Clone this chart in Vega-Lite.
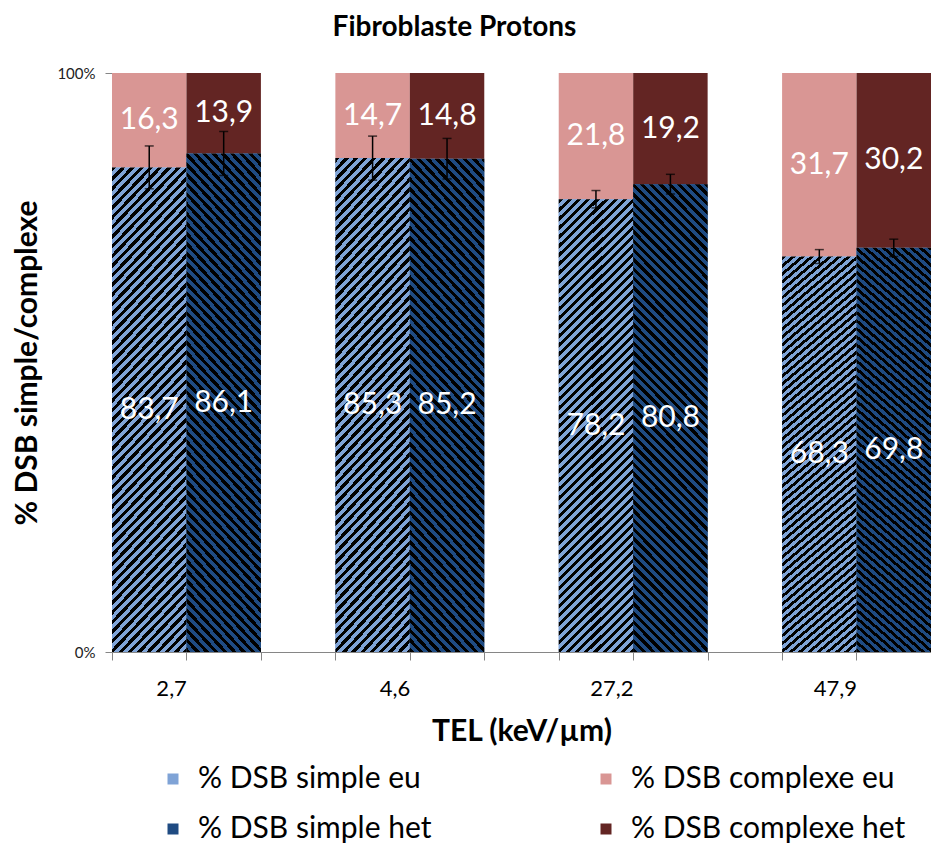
{
"$schema": "https://vega.github.io/schema/vega-lite/v6.json",
"width": 931,
"height": 844,
"autosize": {"type": "fit", "contains": "padding"},
"padding": {"left": 12, "top": 14, "right": 0, "bottom": 0},
"title": {"text": "Fibroblaste Protons", "font": "Lato", "fontSize": 28, "fontWeight": "bold", "color": "#000", "offset": 24, "dx": -67},
"data": {"values": [
{"cat": "2,7 eu", "tel": "2,7", "state": "eu", "type": "simple", "series": "% DSB simple eu", "value": 83.7, "err": 3.7},
{"cat": "2,7 eu", "tel": "2,7", "state": "eu", "type": "complexe", "series": "% DSB complexe eu", "value": 16.3},
{"cat": "2,7 het", "tel": "2,7", "state": "het", "type": "simple", "series": "% DSB simple het", "value": 86.1, "err": 3.8},
{"cat": "2,7 het", "tel": "2,7", "state": "het", "type": "complexe", "series": "% DSB complexe het", "value": 13.9},
{"cat": "4,6 eu", "tel": "4,6", "state": "eu", "type": "simple", "series": "% DSB simple eu", "value": 85.3, "err": 3.8},
{"cat": "4,6 eu", "tel": "4,6", "state": "eu", "type": "complexe", "series": "% DSB complexe eu", "value": 14.7},
{"cat": "4,6 het", "tel": "4,6", "state": "het", "type": "simple", "series": "% DSB simple het", "value": 85.2, "err": 3.5},
{"cat": "4,6 het", "tel": "4,6", "state": "het", "type": "complexe", "series": "% DSB complexe het", "value": 14.8},
{"cat": "27,2 eu", "tel": "27,2", "state": "eu", "type": "simple", "series": "% DSB simple eu", "value": 78.2, "err": 1.5},
{"cat": "27,2 eu", "tel": "27,2", "state": "eu", "type": "complexe", "series": "% DSB complexe eu", "value": 21.8},
{"cat": "27,2 het", "tel": "27,2", "state": "het", "type": "simple", "series": "% DSB simple het", "value": 80.8, "err": 1.7},
{"cat": "27,2 het", "tel": "27,2", "state": "het", "type": "complexe", "series": "% DSB complexe het", "value": 19.2},
{"cat": "47,9 eu", "tel": "47,9", "state": "eu", "type": "simple", "series": "% DSB simple eu", "value": 68.3, "err": 1.2},
{"cat": "47,9 eu", "tel": "47,9", "state": "eu", "type": "complexe", "series": "% DSB complexe eu", "value": 31.7},
{"cat": "47,9 het", "tel": "47,9", "state": "het", "type": "simple", "series": "% DSB simple het", "value": 69.8, "err": 1.5},
{"cat": "47,9 het", "tel": "47,9", "state": "het", "type": "complexe", "series": "% DSB complexe het", "value": 30.2}
]},
"encoding": {
"x": {"field": "cat", "type": "nominal", "sort": null,
 "scale": {"domain": ["2,7 eu", "2,7 het", "gap1", "4,6 eu", "4,6 het", "gap2", "27,2 eu", "27,2 het", "gap3", "47,9 eu", "47,9 het"], "paddingInner": 0, "paddingOuter": 0},
 "axis": {"title": "TEL (keV/µm)", "titleFont": "Lato", "titleFontSize": 30, "titleFontWeight": "bold", "titleColor": "#000", "titlePadding": 17,
  "labelAngle": 0, "labelExpr": "indexof(datum.value, ' het') > 0 ? split(datum.value, ' ')[0] : ''", "labelAlign": "right", "labelFont": "Lato", "labelFontSize": 22, "labelColor": "#000", "labelPadding": 18,
  "tickOffset": -37.3, "tickSize": 8, "tickColor": "#868686", "domainColor": "#868686", "grid": false}},
"y": {"field": "value", "type": "quantitative",
 "scale": {"domain": [0, 100], "nice": false},
 "axis": {"title": "% DSB simple/complexe", "values": [0, 100], "labelExpr": "datum.value + '%'", "labelFont": "Lato", "labelFontSize": 15, "labelColor": "#222", "tickSize": 7, "tickColor": "#868686", "domainColor": "#868686", "labelPadding": 10, "grid": false,
  "titleFont": "Lato", "titleFontSize": 30, "titleFontWeight": "bold", "titleColor": "#000", "titlePadding": 14}}
},
"layer": [
{"mark": {"type": "bar"},
 "encoding": {
  "color": {"field": "series", "type": "nominal",
   "scale": {"domain": ["% DSB simple eu", "% DSB complexe eu", "% DSB simple het", "% DSB complexe het"], "range": ["#7fa3d6", "#d99694", "#1f4b82", "#632523"]},
   "legend": {"orient": "bottom", "columns": 2, "title": " ", "titleOrient": "left", "titleFontSize": 1, "titlePadding": 46, "offset": 18, "labelLimit": 400,
    "labelFont": "Lato", "labelFontSize": 30, "labelColor": "#000", "symbolType": "square", "symbolSize": 121, "labelOffset": 10, "rowPadding": 20, "columnPadding": 159}},
  "order": {"field": "type", "sort": "descending"}
 }},
{"transform": [{"filter": "datum.state === 'eu' && datum.type === 'simple'"}],
 "mark": {"type": "bar", "fill": {"gradient": "linear", "x1": 0, "y1": 0, "x2": 0.183, "y2": 1.14, "stops": [
{"offset":0,"color":"#000"},{"offset":0.008,"color":"#000"},{"offset":0.008,"color":"#7fa3d6"},{"offset":0.017,"color":"#7fa3d6"},
{"offset":0.017,"color":"#000"},{"offset":0.025,"color":"#000"},{"offset":0.025,"color":"#7fa3d6"},{"offset":0.034,"color":"#7fa3d6"},
{"offset":0.034,"color":"#000"},{"offset":0.042,"color":"#000"},{"offset":0.042,"color":"#7fa3d6"},{"offset":0.051,"color":"#7fa3d6"},
{"offset":0.051,"color":"#000"},{"offset":0.059,"color":"#000"},{"offset":0.059,"color":"#7fa3d6"},{"offset":0.068,"color":"#7fa3d6"},
{"offset":0.068,"color":"#000"},{"offset":0.076,"color":"#000"},{"offset":0.076,"color":"#7fa3d6"},{"offset":0.085,"color":"#7fa3d6"},
{"offset":0.085,"color":"#000"},{"offset":0.093,"color":"#000"},{"offset":0.093,"color":"#7fa3d6"},{"offset":0.102,"color":"#7fa3d6"},
{"offset":0.102,"color":"#000"},{"offset":0.110,"color":"#000"},{"offset":0.110,"color":"#7fa3d6"},{"offset":0.119,"color":"#7fa3d6"},
{"offset":0.119,"color":"#000"},{"offset":0.127,"color":"#000"},{"offset":0.127,"color":"#7fa3d6"},{"offset":0.136,"color":"#7fa3d6"},
{"offset":0.136,"color":"#000"},{"offset":0.144,"color":"#000"},{"offset":0.144,"color":"#7fa3d6"},{"offset":0.153,"color":"#7fa3d6"},
{"offset":0.153,"color":"#000"},{"offset":0.161,"color":"#000"},{"offset":0.161,"color":"#7fa3d6"},{"offset":0.170,"color":"#7fa3d6"},
{"offset":0.170,"color":"#000"},{"offset":0.178,"color":"#000"},{"offset":0.178,"color":"#7fa3d6"},{"offset":0.187,"color":"#7fa3d6"},
{"offset":0.187,"color":"#000"},{"offset":0.195,"color":"#000"},{"offset":0.195,"color":"#7fa3d6"},{"offset":0.204,"color":"#7fa3d6"},
{"offset":0.204,"color":"#000"},{"offset":0.212,"color":"#000"},{"offset":0.212,"color":"#7fa3d6"},{"offset":0.221,"color":"#7fa3d6"},
{"offset":0.221,"color":"#000"},{"offset":0.229,"color":"#000"},{"offset":0.229,"color":"#7fa3d6"},{"offset":0.238,"color":"#7fa3d6"},
{"offset":0.238,"color":"#000"},{"offset":0.246,"color":"#000"},{"offset":0.246,"color":"#7fa3d6"},{"offset":0.255,"color":"#7fa3d6"},
{"offset":0.255,"color":"#000"},{"offset":0.263,"color":"#000"},{"offset":0.263,"color":"#7fa3d6"},{"offset":0.272,"color":"#7fa3d6"},
{"offset":0.272,"color":"#000"},{"offset":0.280,"color":"#000"},{"offset":0.280,"color":"#7fa3d6"},{"offset":0.289,"color":"#7fa3d6"},
{"offset":0.289,"color":"#000"},{"offset":0.297,"color":"#000"},{"offset":0.297,"color":"#7fa3d6"},{"offset":0.306,"color":"#7fa3d6"},
{"offset":0.306,"color":"#000"},{"offset":0.314,"color":"#000"},{"offset":0.314,"color":"#7fa3d6"},{"offset":0.323,"color":"#7fa3d6"},
{"offset":0.323,"color":"#000"},{"offset":0.331,"color":"#000"},{"offset":0.331,"color":"#7fa3d6"},{"offset":0.340,"color":"#7fa3d6"},
{"offset":0.340,"color":"#000"},{"offset":0.348,"color":"#000"},{"offset":0.348,"color":"#7fa3d6"},{"offset":0.357,"color":"#7fa3d6"},
{"offset":0.357,"color":"#000"},{"offset":0.365,"color":"#000"},{"offset":0.365,"color":"#7fa3d6"},{"offset":0.374,"color":"#7fa3d6"},
{"offset":0.374,"color":"#000"},{"offset":0.382,"color":"#000"},{"offset":0.382,"color":"#7fa3d6"},{"offset":0.391,"color":"#7fa3d6"},
{"offset":0.391,"color":"#000"},{"offset":0.399,"color":"#000"},{"offset":0.399,"color":"#7fa3d6"},{"offset":0.408,"color":"#7fa3d6"},
{"offset":0.408,"color":"#000"},{"offset":0.416,"color":"#000"},{"offset":0.416,"color":"#7fa3d6"},{"offset":0.425,"color":"#7fa3d6"},
{"offset":0.425,"color":"#000"},{"offset":0.433,"color":"#000"},{"offset":0.433,"color":"#7fa3d6"},{"offset":0.442,"color":"#7fa3d6"},
{"offset":0.442,"color":"#000"},{"offset":0.450,"color":"#000"},{"offset":0.450,"color":"#7fa3d6"},{"offset":0.459,"color":"#7fa3d6"},
{"offset":0.459,"color":"#000"},{"offset":0.467,"color":"#000"},{"offset":0.467,"color":"#7fa3d6"},{"offset":0.476,"color":"#7fa3d6"},
{"offset":0.476,"color":"#000"},{"offset":0.484,"color":"#000"},{"offset":0.484,"color":"#7fa3d6"},{"offset":0.493,"color":"#7fa3d6"},
{"offset":0.493,"color":"#000"},{"offset":0.501,"color":"#000"},{"offset":0.501,"color":"#7fa3d6"},{"offset":0.510,"color":"#7fa3d6"},
{"offset":0.510,"color":"#000"},{"offset":0.518,"color":"#000"},{"offset":0.518,"color":"#7fa3d6"},{"offset":0.527,"color":"#7fa3d6"},
{"offset":0.527,"color":"#000"},{"offset":0.535,"color":"#000"},{"offset":0.535,"color":"#7fa3d6"},{"offset":0.544,"color":"#7fa3d6"},
{"offset":0.544,"color":"#000"},{"offset":0.552,"color":"#000"},{"offset":0.552,"color":"#7fa3d6"},{"offset":0.561,"color":"#7fa3d6"},
{"offset":0.561,"color":"#000"},{"offset":0.569,"color":"#000"},{"offset":0.569,"color":"#7fa3d6"},{"offset":0.578,"color":"#7fa3d6"},
{"offset":0.578,"color":"#000"},{"offset":0.586,"color":"#000"},{"offset":0.586,"color":"#7fa3d6"},{"offset":0.595,"color":"#7fa3d6"},
{"offset":0.595,"color":"#000"},{"offset":0.603,"color":"#000"},{"offset":0.603,"color":"#7fa3d6"},{"offset":0.612,"color":"#7fa3d6"},
{"offset":0.612,"color":"#000"},{"offset":0.620,"color":"#000"},{"offset":0.620,"color":"#7fa3d6"},{"offset":0.629,"color":"#7fa3d6"},
{"offset":0.629,"color":"#000"},{"offset":0.637,"color":"#000"},{"offset":0.637,"color":"#7fa3d6"},{"offset":0.646,"color":"#7fa3d6"},
{"offset":0.646,"color":"#000"},{"offset":0.654,"color":"#000"},{"offset":0.654,"color":"#7fa3d6"},{"offset":0.663,"color":"#7fa3d6"},
{"offset":0.663,"color":"#000"},{"offset":0.671,"color":"#000"},{"offset":0.671,"color":"#7fa3d6"},{"offset":0.680,"color":"#7fa3d6"},
{"offset":0.680,"color":"#000"},{"offset":0.688,"color":"#000"},{"offset":0.688,"color":"#7fa3d6"},{"offset":0.697,"color":"#7fa3d6"},
{"offset":0.697,"color":"#000"},{"offset":0.705,"color":"#000"},{"offset":0.705,"color":"#7fa3d6"},{"offset":0.714,"color":"#7fa3d6"},
{"offset":0.714,"color":"#000"},{"offset":0.722,"color":"#000"},{"offset":0.722,"color":"#7fa3d6"},{"offset":0.731,"color":"#7fa3d6"},
{"offset":0.731,"color":"#000"},{"offset":0.739,"color":"#000"},{"offset":0.739,"color":"#7fa3d6"},{"offset":0.748,"color":"#7fa3d6"},
{"offset":0.748,"color":"#000"},{"offset":0.756,"color":"#000"},{"offset":0.756,"color":"#7fa3d6"},{"offset":0.765,"color":"#7fa3d6"},
{"offset":0.765,"color":"#000"},{"offset":0.773,"color":"#000"},{"offset":0.773,"color":"#7fa3d6"},{"offset":0.782,"color":"#7fa3d6"},
{"offset":0.782,"color":"#000"},{"offset":0.790,"color":"#000"},{"offset":0.790,"color":"#7fa3d6"},{"offset":0.799,"color":"#7fa3d6"},
{"offset":0.799,"color":"#000"},{"offset":0.807,"color":"#000"},{"offset":0.807,"color":"#7fa3d6"},{"offset":0.816,"color":"#7fa3d6"},
{"offset":0.816,"color":"#000"},{"offset":0.824,"color":"#000"},{"offset":0.824,"color":"#7fa3d6"},{"offset":0.833,"color":"#7fa3d6"},
{"offset":0.833,"color":"#000"},{"offset":0.841,"color":"#000"},{"offset":0.841,"color":"#7fa3d6"},{"offset":0.850,"color":"#7fa3d6"},
{"offset":0.850,"color":"#000"},{"offset":0.858,"color":"#000"},{"offset":0.858,"color":"#7fa3d6"},{"offset":0.867,"color":"#7fa3d6"},
{"offset":0.867,"color":"#000"},{"offset":0.875,"color":"#000"},{"offset":0.875,"color":"#7fa3d6"},{"offset":0.884,"color":"#7fa3d6"},
{"offset":0.884,"color":"#000"},{"offset":0.892,"color":"#000"},{"offset":0.892,"color":"#7fa3d6"},{"offset":0.901,"color":"#7fa3d6"},
{"offset":0.901,"color":"#000"},{"offset":0.909,"color":"#000"},{"offset":0.909,"color":"#7fa3d6"},{"offset":0.918,"color":"#7fa3d6"},
{"offset":0.918,"color":"#000"},{"offset":0.926,"color":"#000"},{"offset":0.926,"color":"#7fa3d6"},{"offset":0.935,"color":"#7fa3d6"},
{"offset":0.935,"color":"#000"},{"offset":0.943,"color":"#000"},{"offset":0.943,"color":"#7fa3d6"},{"offset":0.952,"color":"#7fa3d6"},
{"offset":0.952,"color":"#000"},{"offset":0.960,"color":"#000"},{"offset":0.960,"color":"#7fa3d6"},{"offset":0.969,"color":"#7fa3d6"},
{"offset":0.969,"color":"#000"},{"offset":0.977,"color":"#000"},{"offset":0.977,"color":"#7fa3d6"},{"offset":0.986,"color":"#7fa3d6"},
{"offset":0.986,"color":"#000"},{"offset":0.994,"color":"#000"},{"offset":0.994,"color":"#7fa3d6"},{"offset":1,"color":"#7fa3d6"}
 ]}},
 "encoding": {}},
{"transform": [{"filter": "datum.state === 'het' && datum.type === 'simple'"}],
 "mark": {"type": "bar", "fill": {"gradient": "linear", "x1": 0, "y1": 1, "x2": 0.183, "y2": -0.14, "stops": [
{"offset":0,"color":"#000"},{"offset":0.008,"color":"#000"},{"offset":0.008,"color":"#1f4b82"},{"offset":0.017,"color":"#1f4b82"},
{"offset":0.017,"color":"#000"},{"offset":0.025,"color":"#000"},{"offset":0.025,"color":"#1f4b82"},{"offset":0.034,"color":"#1f4b82"},
{"offset":0.034,"color":"#000"},{"offset":0.042,"color":"#000"},{"offset":0.042,"color":"#1f4b82"},{"offset":0.051,"color":"#1f4b82"},
{"offset":0.051,"color":"#000"},{"offset":0.059,"color":"#000"},{"offset":0.059,"color":"#1f4b82"},{"offset":0.068,"color":"#1f4b82"},
{"offset":0.068,"color":"#000"},{"offset":0.076,"color":"#000"},{"offset":0.076,"color":"#1f4b82"},{"offset":0.085,"color":"#1f4b82"},
{"offset":0.085,"color":"#000"},{"offset":0.093,"color":"#000"},{"offset":0.093,"color":"#1f4b82"},{"offset":0.102,"color":"#1f4b82"},
{"offset":0.102,"color":"#000"},{"offset":0.110,"color":"#000"},{"offset":0.110,"color":"#1f4b82"},{"offset":0.119,"color":"#1f4b82"},
{"offset":0.119,"color":"#000"},{"offset":0.127,"color":"#000"},{"offset":0.127,"color":"#1f4b82"},{"offset":0.136,"color":"#1f4b82"},
{"offset":0.136,"color":"#000"},{"offset":0.144,"color":"#000"},{"offset":0.144,"color":"#1f4b82"},{"offset":0.153,"color":"#1f4b82"},
{"offset":0.153,"color":"#000"},{"offset":0.161,"color":"#000"},{"offset":0.161,"color":"#1f4b82"},{"offset":0.170,"color":"#1f4b82"},
{"offset":0.170,"color":"#000"},{"offset":0.178,"color":"#000"},{"offset":0.178,"color":"#1f4b82"},{"offset":0.187,"color":"#1f4b82"},
{"offset":0.187,"color":"#000"},{"offset":0.195,"color":"#000"},{"offset":0.195,"color":"#1f4b82"},{"offset":0.204,"color":"#1f4b82"},
{"offset":0.204,"color":"#000"},{"offset":0.212,"color":"#000"},{"offset":0.212,"color":"#1f4b82"},{"offset":0.221,"color":"#1f4b82"},
{"offset":0.221,"color":"#000"},{"offset":0.229,"color":"#000"},{"offset":0.229,"color":"#1f4b82"},{"offset":0.238,"color":"#1f4b82"},
{"offset":0.238,"color":"#000"},{"offset":0.246,"color":"#000"},{"offset":0.246,"color":"#1f4b82"},{"offset":0.255,"color":"#1f4b82"},
{"offset":0.255,"color":"#000"},{"offset":0.263,"color":"#000"},{"offset":0.263,"color":"#1f4b82"},{"offset":0.272,"color":"#1f4b82"},
{"offset":0.272,"color":"#000"},{"offset":0.280,"color":"#000"},{"offset":0.280,"color":"#1f4b82"},{"offset":0.289,"color":"#1f4b82"},
{"offset":0.289,"color":"#000"},{"offset":0.297,"color":"#000"},{"offset":0.297,"color":"#1f4b82"},{"offset":0.306,"color":"#1f4b82"},
{"offset":0.306,"color":"#000"},{"offset":0.314,"color":"#000"},{"offset":0.314,"color":"#1f4b82"},{"offset":0.323,"color":"#1f4b82"},
{"offset":0.323,"color":"#000"},{"offset":0.331,"color":"#000"},{"offset":0.331,"color":"#1f4b82"},{"offset":0.340,"color":"#1f4b82"},
{"offset":0.340,"color":"#000"},{"offset":0.348,"color":"#000"},{"offset":0.348,"color":"#1f4b82"},{"offset":0.357,"color":"#1f4b82"},
{"offset":0.357,"color":"#000"},{"offset":0.365,"color":"#000"},{"offset":0.365,"color":"#1f4b82"},{"offset":0.374,"color":"#1f4b82"},
{"offset":0.374,"color":"#000"},{"offset":0.382,"color":"#000"},{"offset":0.382,"color":"#1f4b82"},{"offset":0.391,"color":"#1f4b82"},
{"offset":0.391,"color":"#000"},{"offset":0.399,"color":"#000"},{"offset":0.399,"color":"#1f4b82"},{"offset":0.408,"color":"#1f4b82"},
{"offset":0.408,"color":"#000"},{"offset":0.416,"color":"#000"},{"offset":0.416,"color":"#1f4b82"},{"offset":0.425,"color":"#1f4b82"},
{"offset":0.425,"color":"#000"},{"offset":0.433,"color":"#000"},{"offset":0.433,"color":"#1f4b82"},{"offset":0.442,"color":"#1f4b82"},
{"offset":0.442,"color":"#000"},{"offset":0.450,"color":"#000"},{"offset":0.450,"color":"#1f4b82"},{"offset":0.459,"color":"#1f4b82"},
{"offset":0.459,"color":"#000"},{"offset":0.467,"color":"#000"},{"offset":0.467,"color":"#1f4b82"},{"offset":0.476,"color":"#1f4b82"},
{"offset":0.476,"color":"#000"},{"offset":0.484,"color":"#000"},{"offset":0.484,"color":"#1f4b82"},{"offset":0.493,"color":"#1f4b82"},
{"offset":0.493,"color":"#000"},{"offset":0.501,"color":"#000"},{"offset":0.501,"color":"#1f4b82"},{"offset":0.510,"color":"#1f4b82"},
{"offset":0.510,"color":"#000"},{"offset":0.518,"color":"#000"},{"offset":0.518,"color":"#1f4b82"},{"offset":0.527,"color":"#1f4b82"},
{"offset":0.527,"color":"#000"},{"offset":0.535,"color":"#000"},{"offset":0.535,"color":"#1f4b82"},{"offset":0.544,"color":"#1f4b82"},
{"offset":0.544,"color":"#000"},{"offset":0.552,"color":"#000"},{"offset":0.552,"color":"#1f4b82"},{"offset":0.561,"color":"#1f4b82"},
{"offset":0.561,"color":"#000"},{"offset":0.569,"color":"#000"},{"offset":0.569,"color":"#1f4b82"},{"offset":0.578,"color":"#1f4b82"},
{"offset":0.578,"color":"#000"},{"offset":0.586,"color":"#000"},{"offset":0.586,"color":"#1f4b82"},{"offset":0.595,"color":"#1f4b82"},
{"offset":0.595,"color":"#000"},{"offset":0.603,"color":"#000"},{"offset":0.603,"color":"#1f4b82"},{"offset":0.612,"color":"#1f4b82"},
{"offset":0.612,"color":"#000"},{"offset":0.620,"color":"#000"},{"offset":0.620,"color":"#1f4b82"},{"offset":0.629,"color":"#1f4b82"},
{"offset":0.629,"color":"#000"},{"offset":0.637,"color":"#000"},{"offset":0.637,"color":"#1f4b82"},{"offset":0.646,"color":"#1f4b82"},
{"offset":0.646,"color":"#000"},{"offset":0.654,"color":"#000"},{"offset":0.654,"color":"#1f4b82"},{"offset":0.663,"color":"#1f4b82"},
{"offset":0.663,"color":"#000"},{"offset":0.671,"color":"#000"},{"offset":0.671,"color":"#1f4b82"},{"offset":0.680,"color":"#1f4b82"},
{"offset":0.680,"color":"#000"},{"offset":0.688,"color":"#000"},{"offset":0.688,"color":"#1f4b82"},{"offset":0.697,"color":"#1f4b82"},
{"offset":0.697,"color":"#000"},{"offset":0.705,"color":"#000"},{"offset":0.705,"color":"#1f4b82"},{"offset":0.714,"color":"#1f4b82"},
{"offset":0.714,"color":"#000"},{"offset":0.722,"color":"#000"},{"offset":0.722,"color":"#1f4b82"},{"offset":0.731,"color":"#1f4b82"},
{"offset":0.731,"color":"#000"},{"offset":0.739,"color":"#000"},{"offset":0.739,"color":"#1f4b82"},{"offset":0.748,"color":"#1f4b82"},
{"offset":0.748,"color":"#000"},{"offset":0.756,"color":"#000"},{"offset":0.756,"color":"#1f4b82"},{"offset":0.765,"color":"#1f4b82"},
{"offset":0.765,"color":"#000"},{"offset":0.773,"color":"#000"},{"offset":0.773,"color":"#1f4b82"},{"offset":0.782,"color":"#1f4b82"},
{"offset":0.782,"color":"#000"},{"offset":0.790,"color":"#000"},{"offset":0.790,"color":"#1f4b82"},{"offset":0.799,"color":"#1f4b82"},
{"offset":0.799,"color":"#000"},{"offset":0.807,"color":"#000"},{"offset":0.807,"color":"#1f4b82"},{"offset":0.816,"color":"#1f4b82"},
{"offset":0.816,"color":"#000"},{"offset":0.824,"color":"#000"},{"offset":0.824,"color":"#1f4b82"},{"offset":0.833,"color":"#1f4b82"},
{"offset":0.833,"color":"#000"},{"offset":0.841,"color":"#000"},{"offset":0.841,"color":"#1f4b82"},{"offset":0.850,"color":"#1f4b82"},
{"offset":0.850,"color":"#000"},{"offset":0.858,"color":"#000"},{"offset":0.858,"color":"#1f4b82"},{"offset":0.867,"color":"#1f4b82"},
{"offset":0.867,"color":"#000"},{"offset":0.875,"color":"#000"},{"offset":0.875,"color":"#1f4b82"},{"offset":0.884,"color":"#1f4b82"},
{"offset":0.884,"color":"#000"},{"offset":0.892,"color":"#000"},{"offset":0.892,"color":"#1f4b82"},{"offset":0.901,"color":"#1f4b82"},
{"offset":0.901,"color":"#000"},{"offset":0.909,"color":"#000"},{"offset":0.909,"color":"#1f4b82"},{"offset":0.918,"color":"#1f4b82"},
{"offset":0.918,"color":"#000"},{"offset":0.926,"color":"#000"},{"offset":0.926,"color":"#1f4b82"},{"offset":0.935,"color":"#1f4b82"},
{"offset":0.935,"color":"#000"},{"offset":0.943,"color":"#000"},{"offset":0.943,"color":"#1f4b82"},{"offset":0.952,"color":"#1f4b82"},
{"offset":0.952,"color":"#000"},{"offset":0.960,"color":"#000"},{"offset":0.960,"color":"#1f4b82"},{"offset":0.969,"color":"#1f4b82"},
{"offset":0.969,"color":"#000"},{"offset":0.977,"color":"#000"},{"offset":0.977,"color":"#1f4b82"},{"offset":0.986,"color":"#1f4b82"},
{"offset":0.986,"color":"#000"},{"offset":0.994,"color":"#000"},{"offset":0.994,"color":"#1f4b82"},{"offset":1,"color":"#1f4b82"}
 ]}},
 "encoding": {}},
{"transform": [{"filter": "datum.type === 'simple'"}],
 "mark": {"type": "errorbar", "ticks": true, "size": 9, "thickness": 1.5, "color": "#000"},
 "encoding": {"yError": {"field": "err"}}},
{"transform": [
  {"stack": "value", "groupby": ["cat"], "sort": [{"field": "type", "order": "descending"}], "as": ["v0", "v1"]},
  {"calculate": "(datum.v0 + datum.v1) / 2", "as": "mid"},
  {"calculate": "replace(format(datum.value, '.1f'), '.', ',')", "as": "lab"}
 ],
 "mark": {"type": "text", "color": "#fff", "font": "Lato", "fontSize": 30, "baseline": "middle", "align": "center"},
 "encoding": {
  "y": {"field": "mid", "type": "quantitative", "title": "% DSB simple/complexe"},
  "text": {"field": "lab", "type": "nominal"}}}
],
"config": {
 "view": {"stroke": null},
 "font": "Lato"
}
}
